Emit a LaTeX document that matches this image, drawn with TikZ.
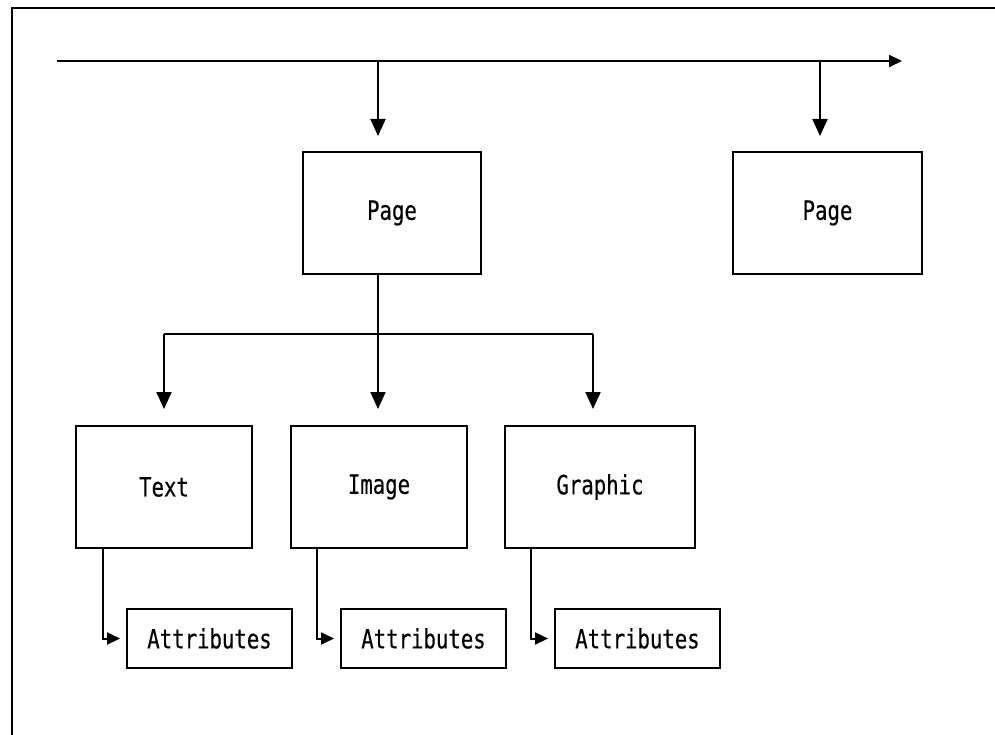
\documentclass[tikz,border=0pt]{standalone}
\usepackage{fontspec}
\usetikzlibrary{arrows.meta}
\newfontfamily\boxfont[FakeStretch=0.78,FakeBold=0.3]{DejaVu Sans Mono}
\begin{document}
\begin{tikzpicture}[x=1pt,y=-1pt,
  line width=2pt,
  every node/.style={font=\boxfont\fontsize{26.5}{30}\selectfont},
  box/.style={draw, rectangle, inner sep=0pt, minimum height=122pt},
  attrbox/.style={draw, rectangle, inner sep=0pt, minimum width=165pt, minimum height=59pt},
  bigarr/.style={-{Triangle[length=17pt,width=15pt]}},
  smallarr/.style={-{Triangle[length=13pt,width=12pt]}}]
\useasboundingbox (0,0) rectangle (995,735);

% frame
\coordinate (fbl) at (12,735);
\coordinate (ftl) at (12,8);
\coordinate (ftr) at (995,8);
\draw (fbl) -- (ftl) -- (ftr);

% page boxes
\node[box, minimum width=178pt] (p1) at (392,213) {Page};
\node[box, minimum width=189pt] (p2) at (827.5,213) {Page};

% content boxes
\node[box, minimum width=176pt] (txt) at (164,487) {Text};
\node[box, minimum width=176pt] (img) at (379,487) {Image};
\node[box, minimum width=190pt] (gra) at (600,487) {Graphic};

% attribute boxes
\node[attrbox] (a1) at (209.5,638.5) {Attributes};
\node[attrbox] (a2) at (423.5,638.5) {Attributes};
\node[attrbox] (a3) at (637.5,638.5) {Attributes};

% sequence line with the page drops
\coordinate (t0) at (57,61);
\coordinate (t1) at (902,61);
\draw[smallarr] (t0) -- (t1);
\coordinate (j1) at (378,61);
\coordinate (j2) at (820,61);
\draw[bigarr, shorten >=15pt] (j1) -- (j1 |- p1.north);
\draw[bigarr, shorten >=15pt] (j2) -- (j2 |- p2.north);

% page to its contents
\coordinate (br) at (378,334);
\coordinate (b1) at (164,334);
\coordinate (b3) at (593,334);
\draw (br |- p1.south) -- (br);
\draw (b1) -- (b3);
\draw[bigarr, shorten >=16pt] (b1) -- (b1 |- txt.north);
\draw[bigarr, shorten >=16pt] (br) -- (br |- img.north);
\draw[bigarr, shorten >=16pt] (b3) -- (b3 |- gra.north);

% contents to attributes
\draw[smallarr, shorten >=6pt] ([xshift=-61pt]txt.south) |- (a1.west);
\draw[smallarr, shorten >=6pt] ([xshift=-62pt]img.south) |- (a2.west);
\draw[smallarr, shorten >=6pt] ([xshift=-69pt]gra.south) |- (a3.west);
\end{tikzpicture}
\end{document}
